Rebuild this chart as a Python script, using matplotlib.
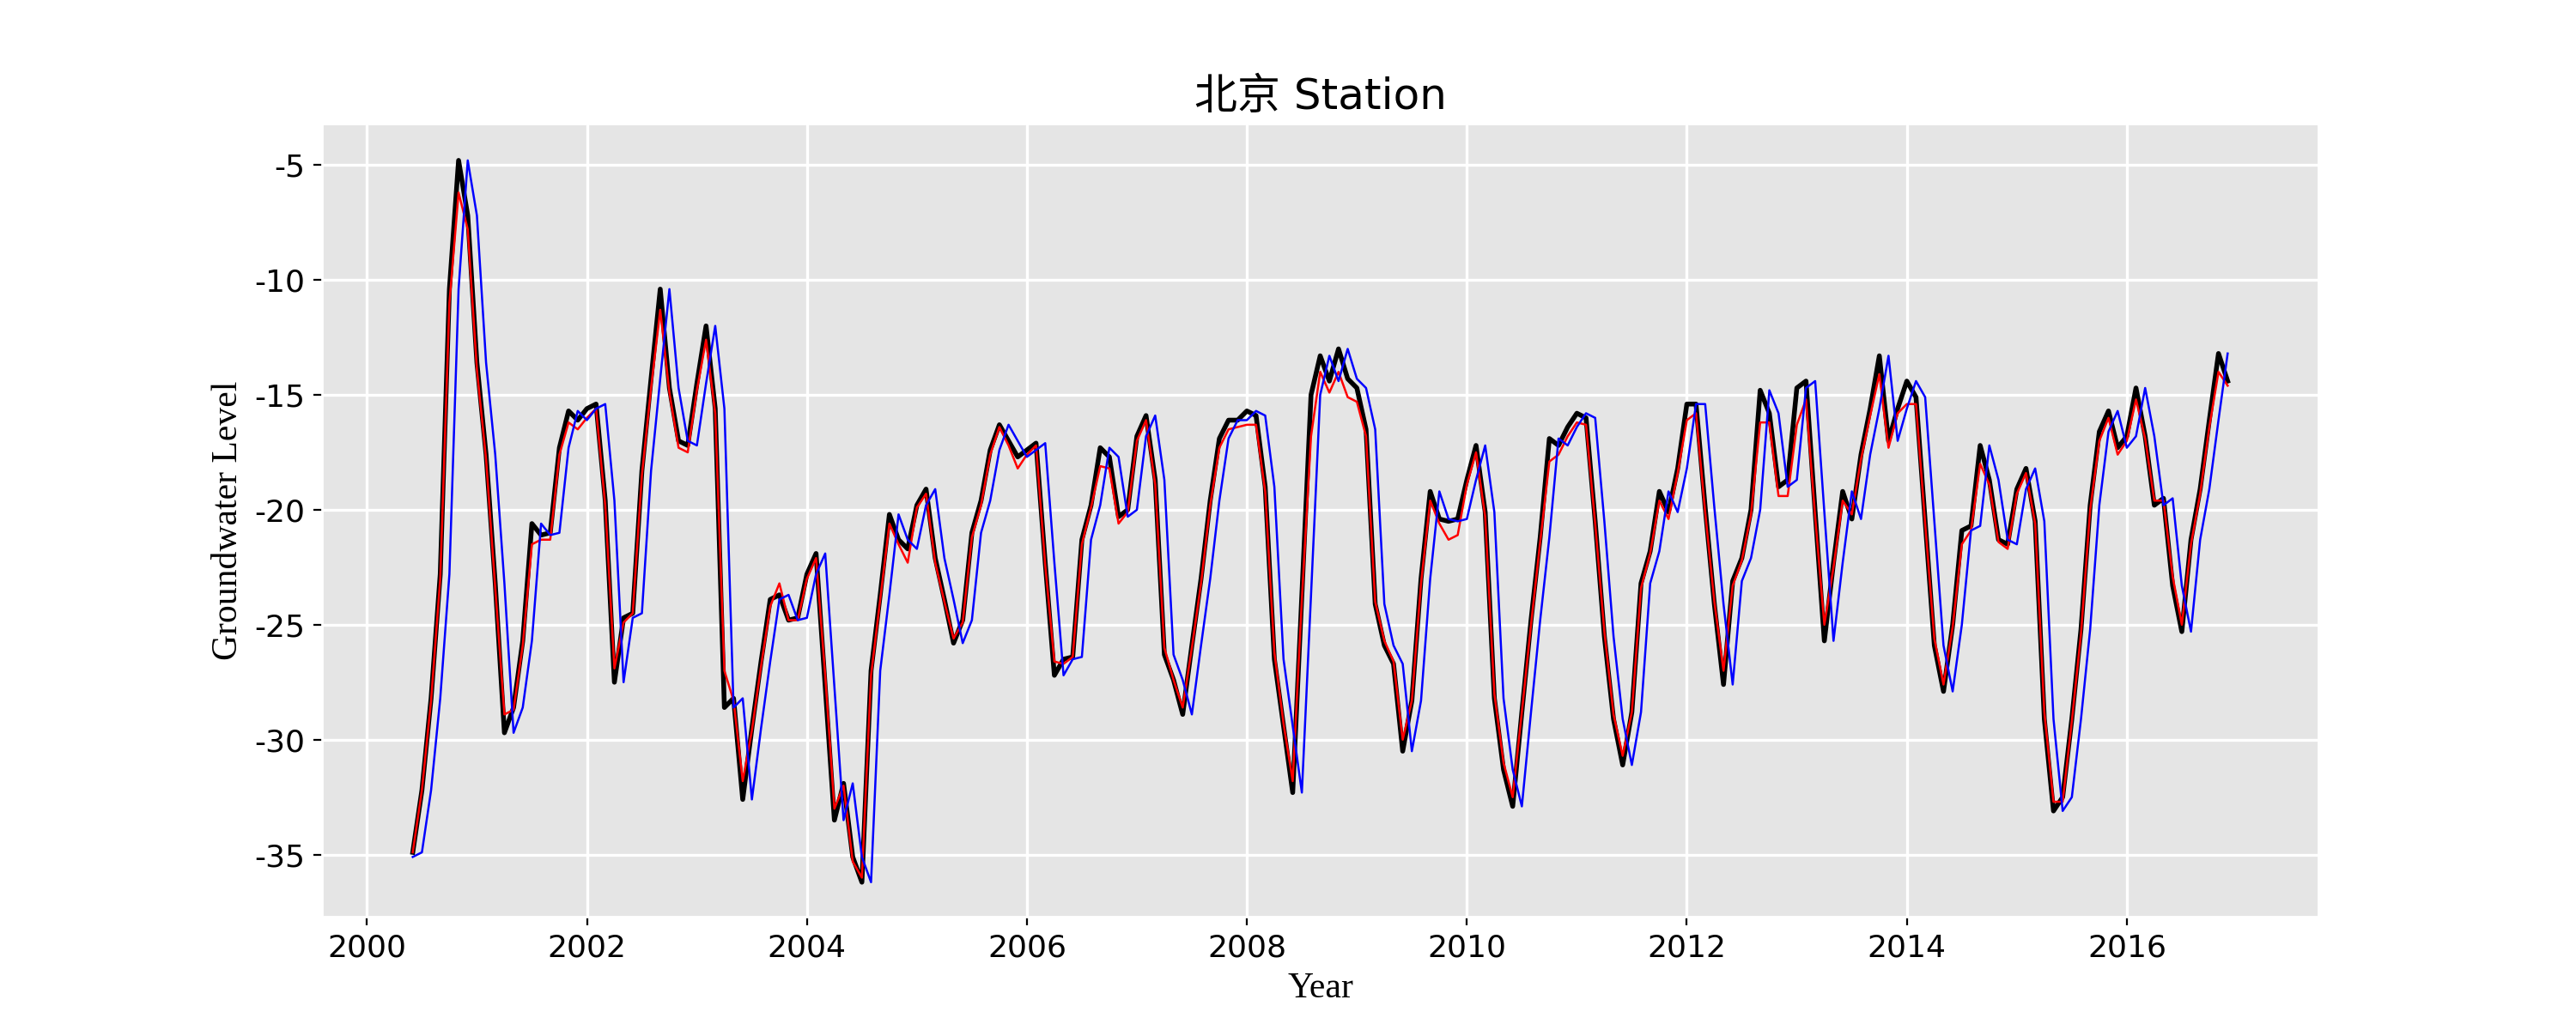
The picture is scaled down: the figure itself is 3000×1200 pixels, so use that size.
import numpy as np
import matplotlib
matplotlib.use('Agg')
import matplotlib.pyplot as plt

plt.style.use('ggplot')
plt.rcParams['axes.unicode_minus'] = False

# monthly series, first value is Jun 2000 (month index 5 counted from Jan 2000)
start_month = 5

observed = [
    -34.9, -32.2, -28.2, -22.8, -10.4, -4.8, -7.2, -13.6, -17.6, -23.2,
    -29.7, -28.6, -25.7, -20.6, -21.1, -21.0, -17.3, -15.7, -16.1, -15.6,
    -15.4, -19.6, -27.5, -24.7, -24.5, -18.3, -14.3, -10.4, -14.7, -17.0,
    -17.2, -14.5, -12.0, -15.6, -28.6, -28.2, -32.6, -29.5, -26.6, -23.9,
    -23.7, -24.8, -24.7, -22.8, -21.9, -27.7, -33.5, -31.9, -35.1, -36.2,
    -27.0, -23.7, -20.2, -21.3, -21.7, -19.8, -19.1, -22.1, -23.9, -25.8,
    -24.8, -21.0, -19.6, -17.4, -16.3, -17.0, -17.7, -17.4, -17.1, -22.3,
    -27.2, -26.5, -26.4, -21.3, -19.8, -17.3, -17.7, -20.3, -20.0, -16.8,
    -15.9, -18.7, -26.3, -27.4, -28.9, -25.9, -23.0, -19.6, -16.9, -16.1,
    -16.1, -15.7, -15.9, -19.0, -26.5, -29.4, -32.3, -23.7, -15.0, -13.3,
    -14.4, -13.0, -14.3, -14.7, -16.5, -24.1, -25.9, -26.7, -30.5, -28.3,
    -23.0, -19.2, -20.4, -20.5, -20.4, -18.7, -17.2, -20.1, -28.2, -31.3,
    -32.9, -28.8, -24.8, -21.2, -16.9, -17.2, -16.4, -15.8, -16.0, -20.5,
    -25.5, -29.1, -31.1, -28.8, -23.2, -21.8, -19.2, -20.1, -18.2, -15.4,
    -15.4, -19.9, -24.1, -27.6, -23.1, -22.1, -20.0, -14.8, -15.8, -19.0,
    -18.7, -14.7, -14.4, -20.1, -25.7, -22.3, -19.2, -20.4, -17.6, -15.6,
    -13.3, -17.0, -15.6, -14.4, -15.1, -20.5, -25.9, -27.9, -25.0, -20.9,
    -20.7, -17.2, -18.7, -21.3, -21.5, -19.1, -18.2, -20.5, -29.1, -33.1,
    -32.5, -29.1, -25.2, -19.8, -16.6, -15.7, -17.3, -16.8, -14.7, -16.8,
    -19.8, -19.5, -23.3, -25.3, -21.3, -19.1, -16.1, -13.2, -14.4,
]

predicted = [
    -34.9, -32.2, -28.3, -23.0, -11.0, -6.2, -7.8, -13.9, -17.8, -23.4,
    -28.9, -28.7, -25.9, -21.5, -21.3, -21.3, -17.6, -16.2, -16.5, -16.0,
    -15.6, -19.8, -26.9, -24.9, -24.5, -18.5, -14.7, -11.3, -14.9, -17.3,
    -17.5, -14.8, -12.6, -15.8, -27.0, -28.3, -31.8, -29.6, -26.8, -24.2,
    -23.2, -24.8, -24.8, -23.0, -22.1, -27.2, -33.0, -32.0, -35.3, -36.0,
    -27.2, -23.9, -20.6, -21.5, -22.3, -19.9, -19.3, -22.3, -24.0, -25.6,
    -24.9, -21.2, -19.8, -17.6, -16.4, -17.2, -18.2, -17.6, -17.2, -22.4,
    -26.6, -26.7, -26.4, -21.5, -19.9, -18.1, -18.2, -20.6, -20.1, -17.0,
    -16.1, -18.9, -26.0, -27.4, -28.6, -26.0, -23.2, -19.8, -17.3, -16.5,
    -16.4, -16.3, -16.3, -19.2, -26.2, -29.3, -31.8, -23.9, -16.8, -14.0,
    -14.9, -14.0, -15.1, -15.3, -16.8, -24.0, -25.7, -26.6, -30.0, -28.3,
    -23.2, -19.6, -20.6, -21.3, -21.1, -18.9, -17.5, -20.3, -28.0, -31.0,
    -32.5, -28.8, -25.0, -21.4, -17.9, -17.6, -16.8, -16.2, -16.3, -20.6,
    -25.3, -28.9, -30.7, -28.8, -23.4, -21.9, -19.6, -20.4, -18.4, -16.1,
    -15.8, -20.1, -24.0, -27.0, -23.3, -22.2, -20.2, -16.2, -16.2, -19.4,
    -19.4, -16.3, -15.2, -20.3, -25.0, -22.5, -19.6, -20.2, -17.8, -15.9,
    -14.1, -17.3, -15.8, -15.4, -15.4, -20.6, -25.6, -27.6, -25.1, -21.5,
    -20.9, -18.0, -18.9, -21.4, -21.7, -19.3, -18.4, -20.6, -28.8, -32.7,
    -32.7, -29.2, -25.4, -20.0, -17.0, -16.0, -17.6, -17.0, -15.2, -16.9,
    -19.6, -19.6, -22.9, -25.0, -21.5, -19.3, -16.4, -14.0, -14.6,
]

lagged = [
    -35.1, -34.9, -32.2, -28.2, -22.8, -10.4, -4.8, -7.2, -13.6, -17.6,
    -23.2, -29.7, -28.6, -25.7, -20.6, -21.1, -21.0, -17.3, -15.7, -16.1,
    -15.6, -15.4, -19.6, -27.5, -24.7, -24.5, -18.3, -14.3, -10.4, -14.7,
    -17.0, -17.2, -14.5, -12.0, -15.6, -28.6, -28.2, -32.6, -29.5, -26.6,
    -23.9, -23.7, -24.8, -24.7, -22.8, -21.9, -27.7, -33.5, -31.9, -35.1,
    -36.2, -27.0, -23.7, -20.2, -21.3, -21.7, -19.8, -19.1, -22.1, -23.9,
    -25.8, -24.8, -21.0, -19.6, -17.4, -16.3, -17.0, -17.7, -17.4, -17.1,
    -22.3, -27.2, -26.5, -26.4, -21.3, -19.8, -17.3, -17.7, -20.3, -20.0,
    -16.8, -15.9, -18.7, -26.3, -27.4, -28.9, -25.9, -23.0, -19.6, -16.9,
    -16.1, -16.1, -15.7, -15.9, -19.0, -26.5, -29.4, -32.3, -23.7, -15.0,
    -13.3, -14.4, -13.0, -14.3, -14.7, -16.5, -24.1, -25.9, -26.7, -30.5,
    -28.3, -23.0, -19.2, -20.4, -20.5, -20.4, -18.7, -17.2, -20.1, -28.2,
    -31.3, -32.9, -28.8, -24.8, -21.2, -16.9, -17.2, -16.4, -15.8, -16.0,
    -20.5, -25.5, -29.1, -31.1, -28.8, -23.2, -21.8, -19.2, -20.1, -18.2,
    -15.4, -15.4, -19.9, -24.1, -27.6, -23.1, -22.1, -20.0, -14.8, -15.8,
    -19.0, -18.7, -14.7, -14.4, -20.1, -25.7, -22.3, -19.2, -20.4, -17.6,
    -15.6, -13.3, -17.0, -15.6, -14.4, -15.1, -20.5, -25.9, -27.9, -25.0,
    -20.9, -20.7, -17.2, -18.7, -21.3, -21.5, -19.1, -18.2, -20.5, -29.1,
    -33.1, -32.5, -29.1, -25.2, -19.8, -16.6, -15.7, -17.3, -16.8, -14.7,
    -16.8, -19.8, -19.5, -23.3, -25.3, -21.3, -19.1, -16.1, -13.2,
]

years = 2000 + (start_month + np.arange(len(observed))) / 12.0

fig, ax = plt.subplots(figsize=(15, 6), dpi=200)
ax.plot(years, observed, color='black', lw=2.0)
ax.plot(years, predicted, color='red', lw=0.9)
ax.plot(years, lagged, color='blue', lw=0.9)

ax.set_xticks([2000, 2002, 2004, 2006, 2008, 2010, 2012, 2014, 2016])
ax.set_yticks([-35, -30, -25, -20, -15, -10, -5])
ax.set_ylim(-37.7, -3.2)
ax.tick_params(labelsize=13, labelcolor='black', colors='black')
ax.set_xlabel('Year', family='Liberation Serif', fontsize=15, color='black')
ax.set_ylabel('Groundwater Level', family='Liberation Serif', fontsize=15, color='black')
ax.set_title('北京 Station', fontsize=18, color='black',
             family=['DejaVu Sans', 'Noto Sans CJK SC'])
ax.grid(True, color='white', lw=1.2)

plt.savefig('out.png')
